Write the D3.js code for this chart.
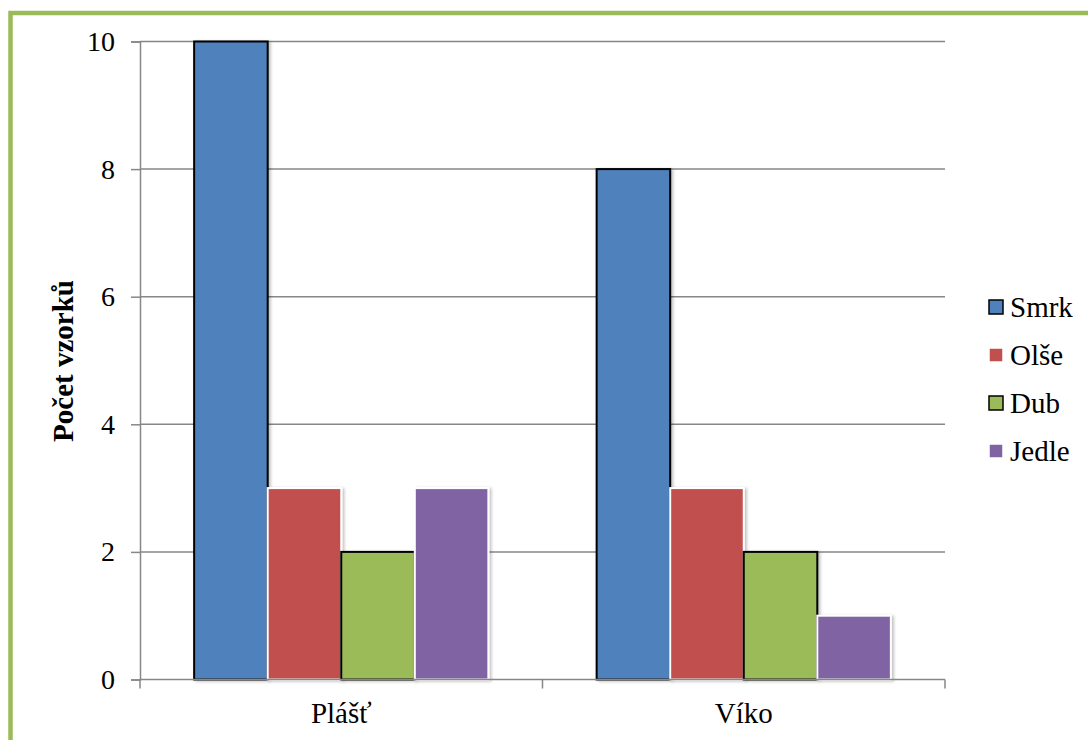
<!DOCTYPE html>
<html>
<head>
<meta charset="utf-8">
<script src="https://cdn.jsdelivr.net/npm/d3@7"></script>
</head>
<body style="margin:0;padding:0;background:#fff">
<svg id="chart" width="1088" height="740" style="display:block"></svg>
<script>
// Wood species counted per part of the object
const categories = ["Plášť", "Víko"];
const series = ["Smrk", "Olše", "Dub", "Jedle"];
const smrk  = [10, 8];
const olse  = [3, 3];
const dub   = [2, 2];
const jedle = [3, 1];
const yTicks = [0, 2, 4, 6, 8, 10];
const yTitle = "Počet vzorků";

const values = [smrk, olse, dub, jedle];
const fills   = ["#4f81bd", "#c0504d", "#9bbb59", "#8064a2"];
const strokes = ["#000000", "#ffffff", "#000000", "#ffffff"];
const FONT = '"Liberation Serif", serif';
const FS = 29;

const svg = d3.select("#chart");

// outer frame (only top and left edges fall inside the view)
svg.append("rect")
  .attr("x", 10.5).attr("y", 13)
  .attr("width", 2000).attr("height", 2000)
  .attr("fill", "none")
  .attr("stroke", "#9bbb59")
  .attr("stroke-width", 4.5);

const plot = { left: 140, right: 945, top: 41.5, bottom: 679.5 };

const y = d3.scaleLinear().domain([0, 10]).range([plot.bottom, plot.top]);
const x0 = d3.scaleBand().domain(categories).range([plot.left, plot.right]).padding(0);
const x1 = d3.scaleBand().domain(series).range([0, x0.bandwidth()])
  .paddingInner(0).paddingOuter(0.736);

// soft shadow for bars
const defs = svg.append("defs");
const f = defs.append("filter").attr("id", "shadow")
  .attr("x", "-10%").attr("y", "-10%").attr("width", "130%").attr("height", "130%");
f.append("feDropShadow").attr("dx", 2).attr("dy", 1).attr("stdDeviation", 1.5)
  .attr("flood-color", "#000").attr("flood-opacity", 0.25);

// horizontal gridlines
svg.append("g").selectAll("line")
  .data(yTicks.filter(d => d > 0))
  .join("line")
  .attr("x1", plot.left).attr("x2", plot.right)
  .attr("y1", d => y(d)).attr("y2", d => y(d))
  .attr("stroke", "#878787").attr("stroke-width", 1.5);

// y axis
const yAxis = svg.append("g")
  .attr("transform", `translate(${plot.left},0)`)
  .call(d3.axisLeft(y).tickValues(yTicks).tickSize(9).tickPadding(16).tickFormat(d3.format("d")));
yAxis.attr("font-family", null).attr("font-size", null);
yAxis.select(".domain").attr("stroke", "#878787").attr("stroke-width", 1.5);
yAxis.selectAll(".tick line").attr("stroke", "#878787").attr("stroke-width", 1.5);
yAxis.selectAll(".tick text")
  .style("font-family", FONT)
  .style("font-size", "28px")
  .attr("fill", "#000");

// bars
const groups = svg.append("g").selectAll("g")
  .data(categories)
  .join("g")
  .attr("transform", d => `translate(${x0(d)},0)`);

groups.selectAll("rect")
  .data((c, ci) => series.map((s, si) => ({ s, si, v: values[si][ci] })))
  .join("rect")
  .attr("x", d => x1(d.s))
  .attr("y", d => y(d.v))
  .attr("width", x1.bandwidth())
  .attr("height", d => y(0) - y(d.v))
  .attr("fill", d => fills[d.si])
  .attr("stroke", d => strokes[d.si])
  .attr("stroke-width", 2)
  .attr("filter", "url(#shadow)");

// x axis
const xAxisY = plot.bottom;
svg.append("line")
  .attr("x1", plot.left).attr("x2", plot.right)
  .attr("y1", xAxisY).attr("y2", xAxisY)
  .attr("stroke", "#878787").attr("stroke-width", 1.5);
const xBounds = [...categories.map(c => x0(c)), plot.right];
svg.append("g").selectAll("line")
  .data(xBounds)
  .join("line")
  .attr("x1", d => d).attr("x2", d => d)
  .attr("y1", xAxisY).attr("y2", xAxisY + 9)
  .attr("stroke", "#878787").attr("stroke-width", 1.5);
svg.append("g").selectAll("text")
  .data(categories)
  .join("text")
  .attr("x", d => x0(d) + x0.bandwidth() / 2)
  .attr("y", 723)
  .attr("text-anchor", "middle")
  .style("font-family", FONT)
  .style("font-size", FS + "px")
  .text(d => d);

// y title
svg.append("text")
  .attr("transform", "translate(73,361) rotate(-90)")
  .attr("text-anchor", "middle")
  .style("font-family", FONT)
  .style("font-size", FS + "px")
  .style("font-weight", "bold")
  .text(yTitle);

// legend
const legend = svg.append("g").selectAll("g")
  .data(series)
  .join("g")
  .attr("transform", (d, i) => `translate(989,${307 + i * 48})`);
legend.append("rect")
  .attr("x", 0).attr("y", -7)
  .attr("width", 14).attr("height", 14)
  .attr("fill", (d, i) => fills[i])
  .attr("stroke", (d, i) => strokes[i])
  .attr("stroke-width", 1.5);
legend.append("text")
  .attr("x", 21).attr("y", 0)
  .attr("dy", "0.35em")
  .style("font-family", FONT)
  .style("font-size", FS + "px")
  .text(d => d);
</script>
</body>
</html>
